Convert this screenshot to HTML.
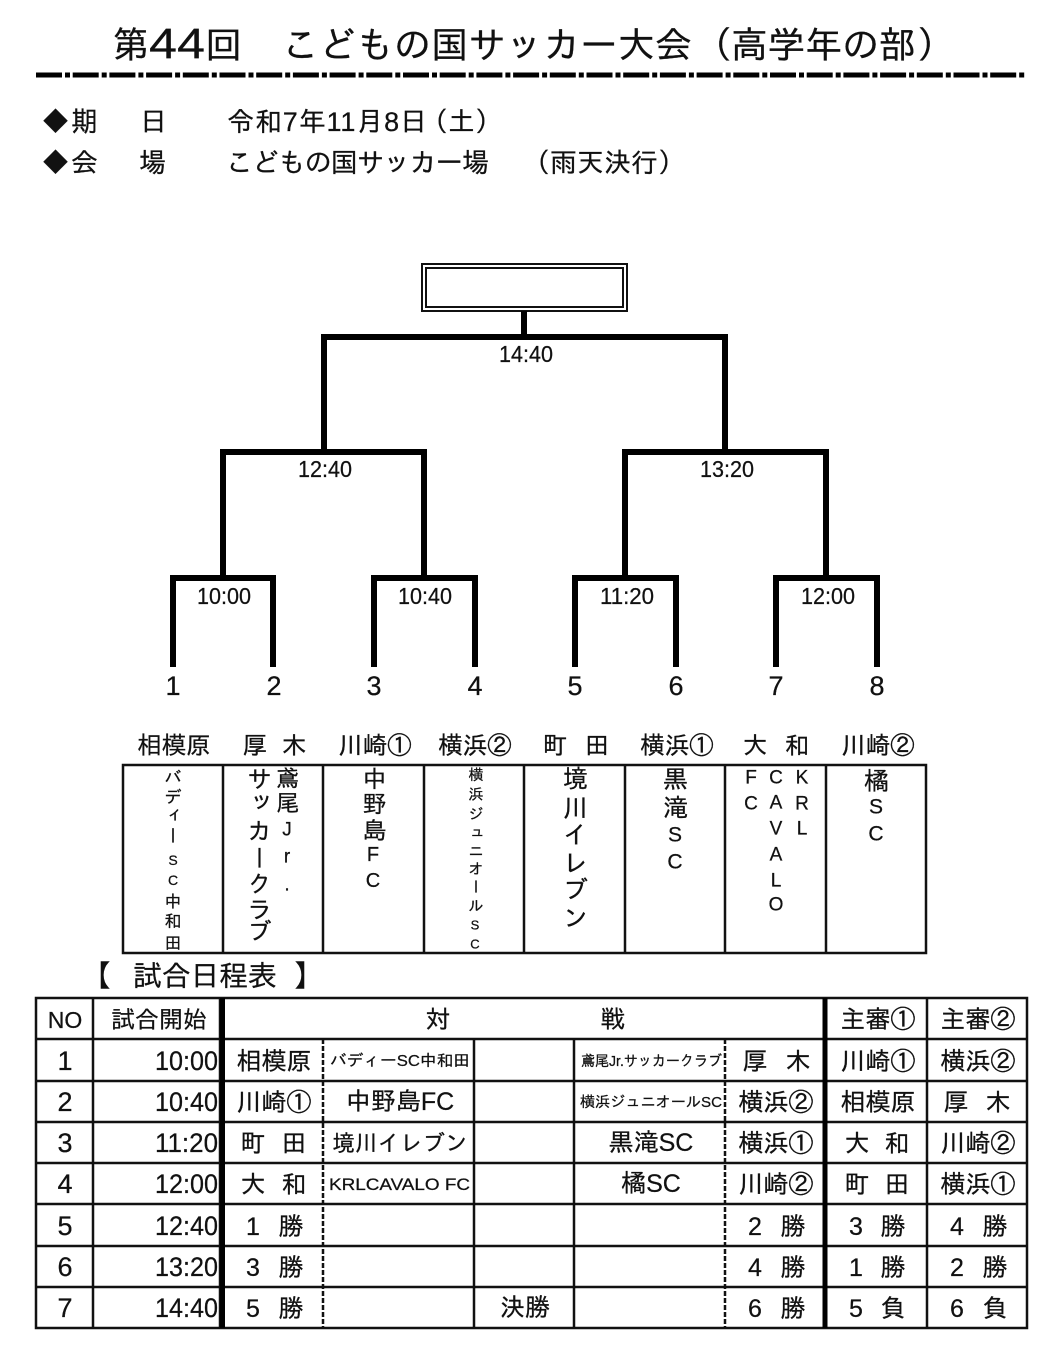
<!DOCTYPE html>
<html lang="ja"><head><meta charset="utf-8"><title>第44回 こどもの国サッカー大会</title>
<style>
html,body{margin:0;padding:0;background:#fff}
svg{display:block}
text{font-family:"Liberation Sans","IPAGothic","Noto Sans CJK JP",sans-serif;fill:#111;stroke:#111;stroke-width:.25px}
.v{writing-mode:vertical-rl;text-orientation:upright;text-anchor:middle}
.m{text-anchor:middle}
.t{font-size:25px;text-anchor:middle}
.s{font-size:16px}
</style></head><body>
<svg width="1064" height="1361" viewBox="0 0 1064 1361" xmlns="http://www.w3.org/2000/svg">
<!-- title -->
<g font-size="37">
<text x="112" y="58">第</text>
<text x="149" y="58" textLength="56" lengthAdjust="spacingAndGlyphs" font-size="43">44</text>
<text x="205" y="58">回</text>
<text x="282" y="58" textLength="410">こどもの国サッカー大会</text>
<text x="695" y="58">（</text>
<text x="731" y="58">高学年の部</text>
<text x="917" y="58">）</text>
</g>
<line x1="36" y1="75" x2="1026" y2="75" stroke="#000" stroke-width="5" stroke-dasharray="26 3 5 2.700"/>
<!-- info -->
<g font-size="27">
<text x="42" y="131">◆</text><text x="71" y="131">期</text><text x="140" y="131">日</text>
<text x="227" y="131" textLength="200">令和7年11月8日</text><text x="421" y="131">（土）</text>
<text x="42" y="172">◆</text><text x="71" y="172">会</text><text x="139" y="172">場</text>
<text x="226" y="172" textLength="263">こどもの国サッカー場</text>
<text x="523" y="172">（雨天決行）</text>
</g>
<!-- winner box -->
<rect x="422" y="264" width="205" height="47" fill="none" stroke="#111" stroke-width="2"/>
<rect x="426" y="268" width="197" height="39" fill="none" stroke="#111" stroke-width="2"/>
<!-- bracket -->
<g fill="none" stroke="#000" stroke-width="6">
<path d="M524 311V337M324 452V337H725V452"/>
<path d="M223 578V452H424V578M625 578V452H826V578"/>
<path d="M173 667V578H273V667M374 667V578H475V667M575 667V578H676V667M776 667V578H877V667"/>
</g>
<g font-size="23" class="m" lengthAdjust="spacingAndGlyphs">
<text x="526" y="362" textLength="54" lengthAdjust="spacingAndGlyphs">14:40</text>
<text x="325" y="477" textLength="54" lengthAdjust="spacingAndGlyphs">12:40</text><text x="727" y="477" textLength="54" lengthAdjust="spacingAndGlyphs">13:20</text>
<text x="224" y="604" textLength="54" lengthAdjust="spacingAndGlyphs">10:00</text><text x="425" y="604" textLength="54" lengthAdjust="spacingAndGlyphs">10:40</text><text x="627" y="604" textLength="54" lengthAdjust="spacingAndGlyphs">11:20</text><text x="828" y="604" textLength="54" lengthAdjust="spacingAndGlyphs">12:00</text>
</g>
<g font-size="27" class="m">
<text x="173" y="695">1</text><text x="274" y="695">2</text><text x="374" y="695">3</text><text x="475" y="695">4</text><text x="575" y="695">5</text><text x="676" y="695">6</text><text x="776" y="695">7</text><text x="877" y="695">8</text>
</g>
<!-- teams header -->
<g font-size="24.500" class="m">
<text x="174" y="754">相模原</text>
<text x="255 294" y="754">厚木</text>
<text x="375" y="754">川崎①</text>
<text x="475" y="754">横浜②</text>
<text x="555 597" y="754">町田</text>
<text x="677" y="754">横浜①</text>
<text x="755 797" y="754">大和</text>
<text x="878" y="754">川崎②</text>
</g>
<!-- teams table -->
<g fill="none" stroke="#111" stroke-width="2.500">
<rect x="123" y="765" width="803" height="188"/>
<path d="M223 765V953M323 765V953M424 765V953M524 765V953M625 765V953M725 765V953M826 765V953"/>
</g>
<text class="v" font-size="17" x="173" y="777 796 815 835 860 880 900 920 942">バディー<tspan font-size="14">SC</tspan>中和田</text>
<text class="v" font-size="23" x="287" y="777 802 830 857 885">鳶尾<tspan font-size="19">Jr.</tspan></text>
<text class="v" font-size="24" x="258" y="778 802 830 858 883 908 930">サッカークラブ</text>
<text class="v" font-size="24" x="373" y="778 803 830 855 881">中野島<tspan font-size="20">FC</tspan></text>
<text class="v" font-size="15" x="475" y="775 794 813 832 850 868 886 905 925 944">横浜ジュニオール<tspan font-size="13">SC</tspan></text>
<text class="v" font-size="25" x="575" y="778 807 833 862 888 917">境川イレブン</text>
<text class="v" font-size="25" x="675" y="778 807 835 862">黒滝<tspan font-size="21">SC</tspan></text>
<text class="v" font-size="19" x="751" y="778 804">FC</text>
<text class="v" font-size="19" x="776" y="778 803 829 855 881 905">CAVALO</text>
<text class="v" font-size="19" x="802" y="778 804 829">KRL</text>
<text class="v" font-size="25" x="876" y="780 807 834">橘<tspan font-size="21">SC</tspan></text>
<!-- heading -->
<g font-size="29" style="stroke-width:.5px">
<text x="81" y="986" style="stroke-width:1.500px">【</text><text x="133" y="986" textLength="144">試合日程表</text><text x="295" y="986" style="stroke-width:1.500px">】</text>
</g>
<!-- schedule grid -->
<g fill="none" stroke="#111" stroke-width="2.500">
<rect x="36" y="998" width="991" height="330"/>
<path d="M93 998V1328M220 998V1328M927 998V1328"/>
<path d="M36 1039H1027M36 1081H1027M36 1122H1027M36 1163H1027M36 1204H1027M36 1246H1027M36 1287H1027"/>
<path d="M474 1039V1328M574 1039V1328"/>
</g>
<path d="M222.500 998V1328M825 998V1328" stroke="#000" stroke-width="5" fill="none"/>
<path d="M323 1039V1328M725 1039V1328" stroke="#111" stroke-width="2.500" stroke-dasharray="5 2" fill="none"/>
<!-- header row -->
<text class="t" x="65" y="1028" style="font-size:23px">NO</text>
<text class="t" style="font-size:24px" x="159" y="1028">試合開始</text>
<text class="t" x="438" y="1028">対</text>
<text class="t" x="613" y="1028">戦</text>
<text class="t" x="878" y="1028">主審①</text>
<text class="t" x="978" y="1028">主審②</text>
<!-- rows: numbers -->
<g style="font-size:27px">
<text class="m" x="65" y="1070">1</text><text class="m" x="65" y="1111">2</text><text class="m" x="65" y="1152">3</text><text class="m" x="65" y="1193">4</text><text class="m" x="65" y="1235">5</text><text class="m" x="65" y="1276">6</text><text class="m" x="65" y="1317">7</text>
</g>
<g font-size="27" style="text-anchor:end">
<text x="218" y="1070" textLength="63" lengthAdjust="spacingAndGlyphs">10:00</text><text x="218" y="1111" textLength="63" lengthAdjust="spacingAndGlyphs">10:40</text><text x="218" y="1152" textLength="63" lengthAdjust="spacingAndGlyphs">11:20</text><text x="218" y="1193" textLength="63" lengthAdjust="spacingAndGlyphs">12:00</text><text x="218" y="1235" textLength="63" lengthAdjust="spacingAndGlyphs">12:40</text><text x="218" y="1276" textLength="63" lengthAdjust="spacingAndGlyphs">13:20</text><text x="218" y="1317" textLength="63" lengthAdjust="spacingAndGlyphs">14:40</text>
</g>
<!-- col home -->
<text class="t" x="274" y="1070">相模原</text>
<text class="t" x="274" y="1111">川崎①</text>
<text class="t" x="253 294" y="1152">町田</text>
<text class="t" x="253 294" y="1193">大和</text>
<text class="t" x="253 291" y="1235">1勝</text>
<text class="t" x="253 291" y="1276">3勝</text>
<text class="t" x="253 291" y="1317">5勝</text>
<!-- team names -->
<text class="s" x="330" y="1066" textLength="140" lengthAdjust="spacingAndGlyphs">バディーSC中和田</text>
<text class="t" x="400" y="1110">中野島FC</text>
<text class="t" style="font-size:22.500px" x="400" y="1151">境川イレブン</text>
<text x="329" y="1190" style="font-size:17px" textLength="141" lengthAdjust="spacingAndGlyphs">KRLCAVALO FC</text>
<text class="t" x="525" y="1316">決勝</text>
<text class="s" x="581" y="1066" textLength="141" lengthAdjust="spacingAndGlyphs" style="font-size:15px">鳶尾Jr.サッカークラブ</text>
<text class="s" x="580" y="1107" textLength="142" lengthAdjust="spacingAndGlyphs" style="font-size:15px">横浜ジュニオールSC</text>
<text class="t" x="651" y="1151">黒滝SC</text>
<text class="t" x="651" y="1192">橘SC</text>
<!-- col away -->
<text class="t" x="755 798" y="1070">厚木</text>
<text class="t" x="776" y="1111">横浜②</text>
<text class="t" x="776" y="1152">横浜①</text>
<text class="t" x="776" y="1193">川崎②</text>
<text class="t" x="755 793" y="1235">2勝</text>
<text class="t" x="755 793" y="1276">4勝</text>
<text class="t" x="755 793" y="1317">6勝</text>
<!-- ref 1 -->
<text class="t" x="878" y="1070">川崎①</text>
<text class="t" x="878" y="1111">相模原</text>
<text class="t" x="857 897" y="1152">大和</text>
<text class="t" x="857 897" y="1193">町田</text>
<text class="t" x="856 893" y="1235">3勝</text>
<text class="t" x="856 893" y="1276">1勝</text>
<text class="t" x="856 893" y="1317">5負</text>
<!-- ref 2 -->
<text class="t" x="978" y="1070">横浜②</text>
<text class="t" x="956 998" y="1111">厚木</text>
<text class="t" x="978" y="1152">川崎②</text>
<text class="t" x="978" y="1193">横浜①</text>
<text class="t" x="957 995" y="1235">4勝</text>
<text class="t" x="957 995" y="1276">2勝</text>
<text class="t" x="957 995" y="1317">6負</text>
</svg>
</body></html>
